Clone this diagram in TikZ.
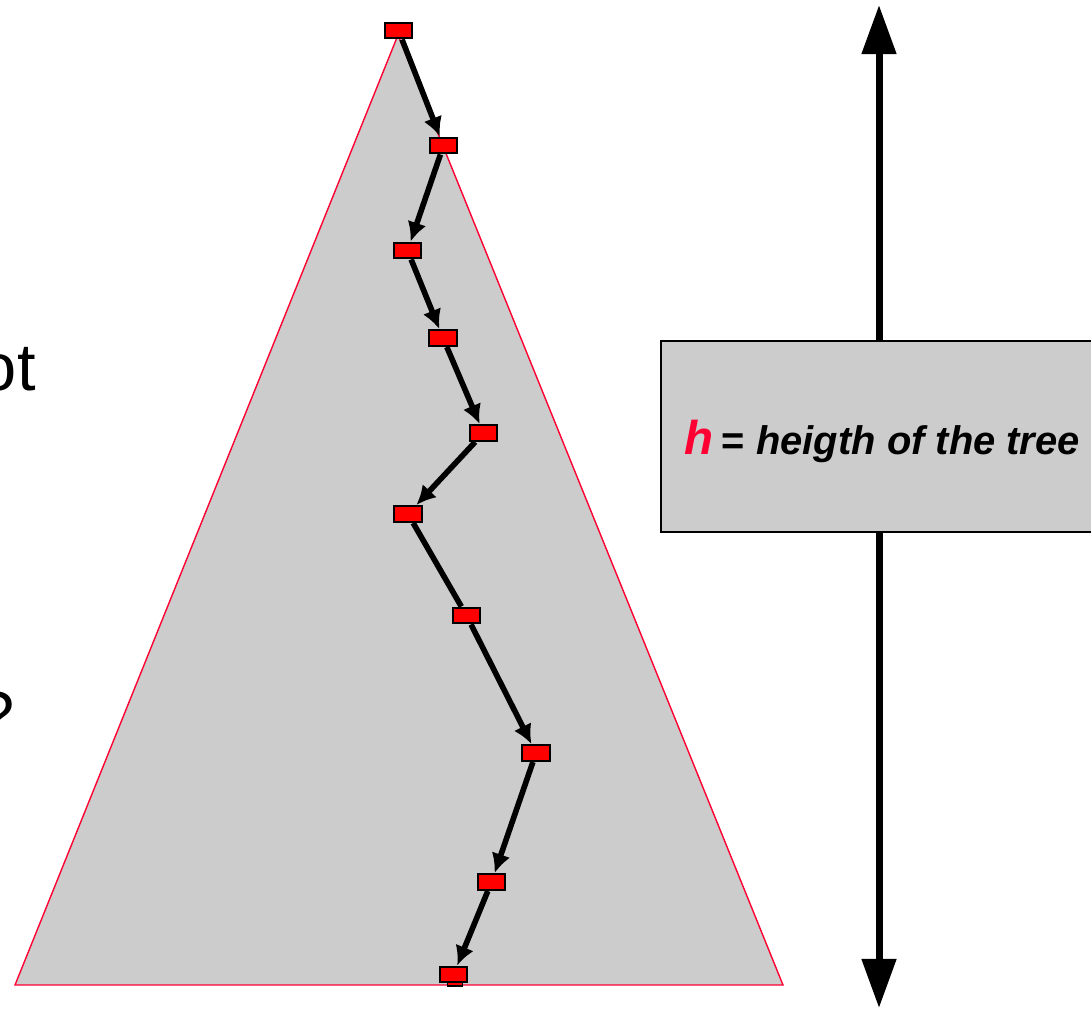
\documentclass[tikz,border=0pt]{standalone}
\usepackage{fontspec}
\setmainfont{Liberation Sans}
\usepackage{xcolor}
\usepackage{tikz}
\usetikzlibrary{positioning,arrows.meta,shapes}

\definecolor{treered}{RGB}{255,0,51}
\definecolor{treegray}{RGB}{204,204,204}

\begin{document}
\begin{tikzpicture}[
        x=0.02cm, y=-0.02cm,
        leaf/.style={rectangle, draw=black, fill=red, line width=1.2pt, inner sep=0pt, minimum width=15.5pt, minimum height=9pt},
        stub/.style={rectangle, draw=black, fill=red, line width=0.9pt, inner sep=0pt, minimum width=8.5pt, minimum height=2.5pt},
        arrow/.style={-{Latex[length=11pt,width=11pt]}, line width=3.2pt},
        plain/.style={line width=3.2pt},
        hbox/.style={rectangle, draw=black, fill=treegray, line width=0.9pt, minimum width=248pt, minimum height=109pt},
        side/.style={font=\fontsize{38}{44}\selectfont, inner sep=0pt}
    ]
    \useasboundingbox (0,0) rectangle (1091,1009);
    \clip (0,0) rectangle (1091,1009);

    % Left text (cut off)
    \node[side, anchor=base east] (rootword) at (36,390) {ot};
    \node[side, anchor=base east] (qmark) at (15,738) {?};

    % Tree
    \draw[treered, fill=treegray, line width=0.8pt] (398,35) -- (783,985) -- (15,985) -- cycle;

    % Path nodes
    \foreach \x/\y [count=\i] in {398.5/30.5, 443.5/145.5, 407.5/250.5, 443/338, 483.5/433,
                                  408/514, 466.5/615.5, 536/753, 491.5/882, 453.5/974.5} {
        \node[leaf] (n\i) at (\x,\y) {};
    }
    \node[stub] (nend) at (455,984) {};

    % Path arrows
    \foreach \a/\b in {1/2, 2/3, 3/4, 4/5, 5/6, 7/8, 8/9, 9/10} {
        \draw[arrow] (n\a) -- (n\b);
    }
    \draw[plain] (n6) -- (n7);

    % Height arrow
    \coordinate (htop) at (879,5);
    \coordinate (hbot) at (879,1008);
    \draw[{Triangle[length=28pt,width=19pt]}-{Triangle[length=28pt,width=19pt]}, line width=4pt] (htop) -- (hbot);

    \node[hbox] (hlabel) at (879,436.5) {};
    \node[anchor=base, inner sep=0pt] (htext) at (882,454) {%
        {\fontsize{27}{30}\selectfont\bfseries\itshape\color{treered}h}\hspace{5pt}%
        {\fontsize{22.7}{25}\selectfont\bfseries = \itshape heigth of the tree}};
\end{tikzpicture}
\end{document}
